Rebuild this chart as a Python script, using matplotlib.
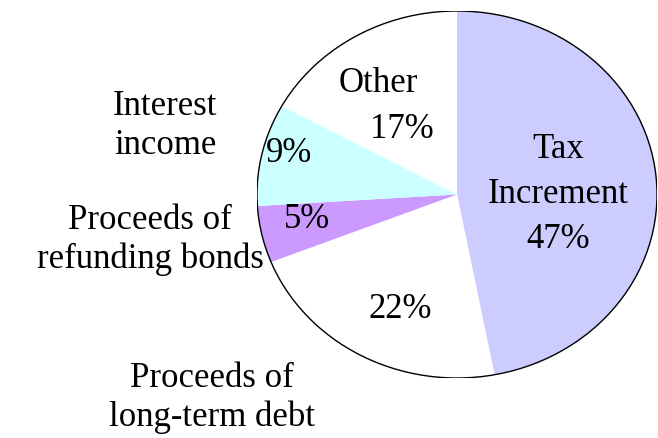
import matplotlib
matplotlib.use('Agg')
import matplotlib.pyplot as plt
from matplotlib.patches import Circle

# data, clockwise from 12 o'clock
names = ['Tax\nIncrement', 'Proceeds of\nlong-term debt', 'Proceeds of\nrefunding bonds',
         'Interest\nincome', 'Other']
shares = [47, 22, 5, 9, 17]
colours = ['#CCCCFF', '#FFFFFF', '#CC99FF', '#CCFFFF', '#FFFFFF']

W, H = 658, 439
fig = plt.figure(figsize=(W / 100, H / 100), dpi=100)
ax = fig.add_axes([257 / W, (H - 379) / H, 400 / W, 367 / H])

ax.pie(shares, colors=colours, startangle=90, counterclock=False,
       wedgeprops=dict(linewidth=0))
ax.set_aspect('auto')
ax.set_xlim(-1, 1)
ax.set_ylim(-1, 1)
ax.add_patch(Circle((0, 0), 1, fill=False, ec='black', lw=1.0))
ax.axis('off')

font = dict(family='Liberation Serif', size=25, ha='center', va='center', color='black')


def put(x, y, s, **kw):
    fig.text(x / W, 1 - y / H, s, **font, **kw)


pct = ['%d%%' % v for v in shares]

# inside labels
put(558, 150, 'Tax')
put(558, 195, 'Increment')
put(558, 240, pct[0])
put(378, 83, names[4])
put(402, 130, pct[4])
put(289, 153, pct[3])
put(307, 220, pct[2])
put(400, 310, pct[1])

# outside labels
put(165, 126, names[3], linespacing=1.25)
put(150, 240, names[2], linespacing=1.25)
put(212, 398, names[1], linespacing=1.25)

fig.savefig('out.png', dpi=100)
